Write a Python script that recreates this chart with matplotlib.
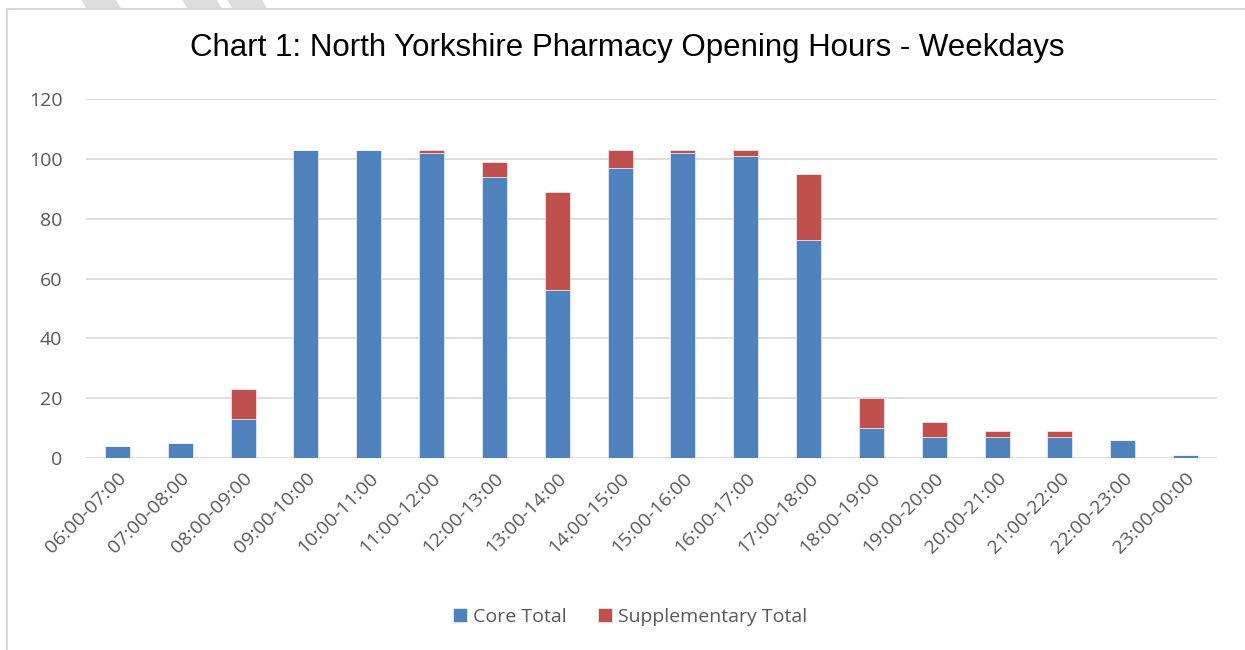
import matplotlib.pyplot as plt
from matplotlib.patches import Polygon, Rectangle
import numpy as np

# Hourly slots (weekdays)
slots = ["06:00-07:00", "07:00-08:00", "08:00-09:00", "09:00-10:00", "10:00-11:00",
         "11:00-12:00", "12:00-13:00", "13:00-14:00", "14:00-15:00", "15:00-16:00",
         "16:00-17:00", "17:00-18:00", "18:00-19:00", "19:00-20:00", "20:00-21:00",
         "21:00-22:00", "22:00-23:00", "23:00-00:00"]
core_total = [4, 5, 13, 103, 103, 102, 94, 56, 97, 102, 101, 73, 10, 7, 7, 7, 6, 1]
supplementary_total = [0, 0, 10, 0, 0, 1, 5, 33, 6, 1, 2, 22, 10, 5, 2, 2, 0, 0]

blue = "#4F81BD"
red = "#C0504D"
grid = "#D9D9D9"
text_col = "#595959"

plt.rcParams['font.family'] = ['Open Sans', 'DejaVu Sans']

fig = plt.figure(figsize=(12.45, 6.5), dpi=100)
W, H = 1245, 650
ax = fig.add_axes([86 / W, 1 - 458 / H, (1217 - 86) / W, (458 - 99) / H])

x = np.arange(len(slots))
ax.bar(x, core_total, width=0.4, color=blue, edgecolor="white", linewidth=0.4,
       label="Core Total", zorder=3)
ax.bar(x, supplementary_total, width=0.4, bottom=core_total, color=red,
       edgecolor="white", linewidth=0.4, label="Supplementary Total", zorder=3)

ax.set_xlim(-0.5, len(slots) - 0.5)
ax.set_ylim(0, 120)
ax.set_yticks(range(0, 121, 20))
ax.yaxis.grid(True, color=grid, linewidth=1.2, zorder=0)
for s in ax.spines.values():
    s.set_visible(False)
ax.axhline(0, color=grid, linewidth=1.2, zorder=2)
ax.tick_params(length=0, colors=text_col, labelsize=14)
ax.tick_params(axis="y", pad=17)
ax.set_xticks(x)
ax.set_xticklabels(slots, rotation=45, ha="right", rotation_mode="anchor")
ax.tick_params(axis="x", pad=8)

fig.text(627 / W, 1 - 48 / H, "Chart 1: North Yorkshire Pharmacy Opening Hours - Weekdays",
         ha="center", va="center", fontsize=22.5, family="Liberation Sans", color="black")

leg = fig.legend(loc="center", bbox_to_anchor=(630 / W, 1 - 617 / H), ncol=2,
                 frameon=False, fontsize=14, handlelength=0.75, handleheight=0.75,
                 handletextpad=0.3, columnspacing=1.6)
for t in leg.get_texts():
    t.set_color(text_col)

# chart area border
fig.add_artist(Rectangle((7 / W, -0.01), 1.2, 1 - 9 / H + 0.01, transform=fig.transFigure,
                         fill=False, edgecolor="#D9D9D9", linewidth=1.5))

# faint watermark stripes at the top
for x0 in [82, 183, 228]:
    fig.add_artist(Polygon([(x0 / W, 1), ((x0 + 33) / W, 1), ((x0 + 38) / W, 1 - 8 / H),
                            ((x0 + 5) / W, 1 - 8 / H)], closed=True,
                           transform=fig.transFigure, color="#DDDDDD", zorder=0))

fig.savefig("out.png", dpi=100)
